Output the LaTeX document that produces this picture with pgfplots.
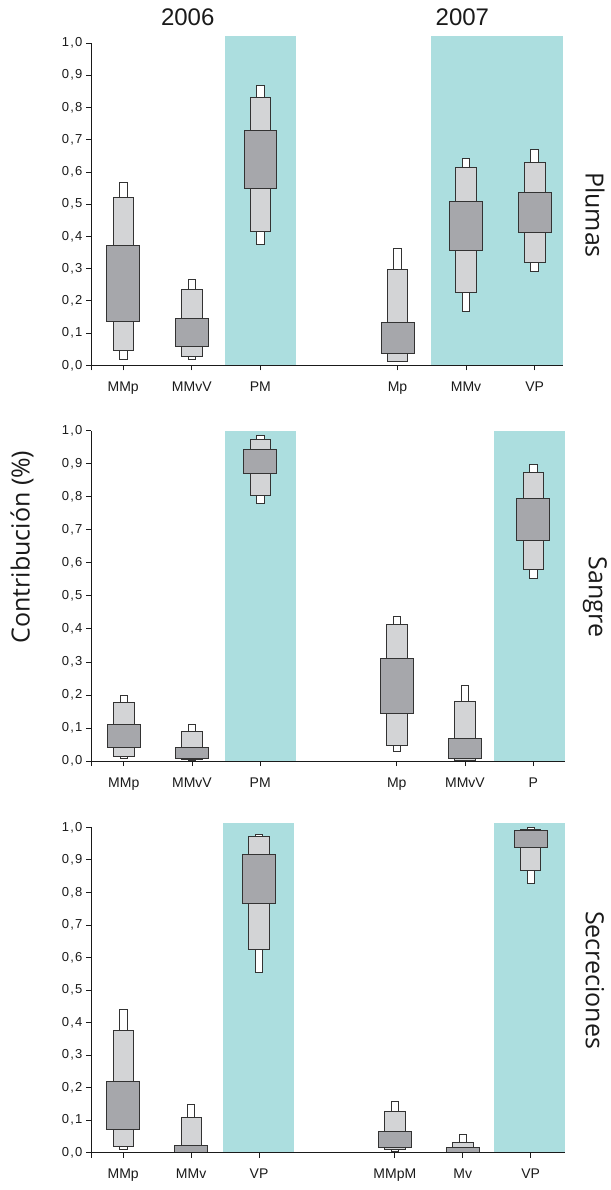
\documentclass[border=0pt]{standalone}
\usepackage{fontspec}
\setmainfont{Liberation Sans}
\newfontfamily\tickfont[LetterSpace=10]{Liberation Sans}
\newfontfamily\labelfont{Open Sans}
\usepackage{pgfplots}
\pgfplotsset{compat=1.18}

\definecolor{shade}{HTML}{ACDEDF}
\definecolor{ciA}{HTML}{FFFFFF}
\definecolor{ciB}{HTML}{D3D4D6}
\definecolor{ciC}{HTML}{A6A7AB}
\definecolor{edge}{HTML}{333333}
\definecolor{ink}{HTML}{1A1A1A}

\pgfplotsset{
  panel/.style={
    scale only axis, anchor=south west,
    axis lines*=left, axis line style={-, line width=0.8pt, ink},
    ymin=0, ymax=1,
    clip=false, axis on top,
    ytick={0,0.1,0.2,0.3,0.4,0.5,0.6,0.7,0.8,0.9,1.0},
    xtick={1,2,3,5,6,7},
    tick align=outside, major tick length=5pt,
    tick style={line width=0.8pt, ink},
    /pgf/number format/assume math mode=true,
    yticklabel style={/pgf/number format/.cd, fixed, fixed zerofill, precision=1, use comma,
      /tikz/.cd, font=\tickfont\fontsize{13}{15}\selectfont, text=ink},
    xticklabel style={font=\fontsize{14}{16}\selectfont, text=ink, yshift=-8pt},
    extra tick style={tick style={line width=0.8pt, ink}},
  },
  ci95/.style={draw=edge, fill=ciA, line width=0.8pt, mark=none},
  ci75/.style={draw=edge, fill=ciB, line width=0.8pt, mark=none},
  ci50/.style={draw=edge, fill=ciC, line width=0.8pt, mark=none},
}

% one credible interval drawn as a box: position, lower, upper, width, style
\newcommand{\band}[5]{%
  \pgfmathsetmacro\xl{#1-#4/2}%
  \pgfmathsetmacro\xr{#1+#4/2}%
  \edef\doband{\noexpand\addplot[#5, forget plot] coordinates
    {(\xl,#2) (\xr,#2) (\xr,#3) (\xl,#3)} -- cycle;}%
  \doband}
% nested 95 / 75 / 50 % intervals for one source
\newcommand{\credible}[7]{%
  \band{#1}{#2}{#3}{0.11}{ci95}
  \band{#1}{#4}{#5}{0.30}{ci75}
  \band{#1}{#6}{#7}{0.48}{ci50}}
% highlighted column band
\newcommand{\shaded}[3]{%
  \addplot[fill=shade, draw=none, forget plot] coordinates {(#1,0) (#2,0) (#2,#3) (#1,#3)} -- cycle;}

\begin{document}
\begin{tikzpicture}
\path (0,0) rectangle (608pt,-1190pt);

% ---- Plumas ----
\begin{axis}[panel, at={(91pt,-365.3pt)}, width=472.4pt, height=322.3pt,
  xmin=0.53, xmax=7.42, xticklabels={MMp,MMvV,PM,Mp,MMv,VP},
  extra x ticks={0.53}, extra x tick labels={}]
  \shaded{2.48}{3.52}{1.022}
  \shaded{5.49}{7.42}{1.022}
  \credible{1}{0.019}{0.569}{0.045}{0.521}{0.135}{0.373}
  \credible{2}{0.019}{0.267}{0.027}{0.237}{0.060}{0.146}
  \credible{3}{0.375}{0.868}{0.416}{0.831}{0.548}{0.729}
  \credible{5}{0.011}{0.363}{0.011}{0.298}{0.037}{0.132}
  \credible{6}{0.168}{0.643}{0.225}{0.613}{0.356}{0.509}
  \credible{7}{0.292}{0.670}{0.318}{0.631}{0.412}{0.537}
\end{axis}

% ---- Sangre ----
\begin{axis}[panel, at={(91pt,-761pt)}, width=473.6pt, height=330.3pt,
  xmin=0.52, xmax=7.46, xticklabels={MMp,MMvV,PM,Mp,MMvV,P},
  extra x ticks={0.52}, extra x tick labels={}]
  \shaded{2.49}{3.53}{1.0}
  \shaded{6.43}{7.46}{1.0}
  \credible{1}{0.007}{0.198}{0.014}{0.176}{0.040}{0.110}
  \credible{2}{0.003}{0.111}{0.005}{0.091}{0.007}{0.040}
  \credible{3}{0.779}{0.985}{0.804}{0.975}{0.871}{0.942}
  \credible{5}{0.028}{0.437}{0.047}{0.413}{0.143}{0.311}
  \credible{6}{0.000}{0.228}{0.003}{0.179}{0.007}{0.069}
  \credible{7}{0.552}{0.898}{0.579}{0.875}{0.668}{0.795}
\end{axis}

% ---- Secreciones ----
\begin{axis}[panel, at={(91pt,-1152.7pt)}, width=473.6pt, height=325.4pt,
  xmin=0.526, xmax=7.50, xticklabels={MMp,MMv,VP,MMpM,Mv,VP},
  extra x ticks={0.526}, extra x tick labels={}]
  \shaded{2.47}{3.51}{1.013}
  \shaded{6.46}{7.50}{1.013}
  \credible{1}{0.010}{0.440}{0.019}{0.376}{0.071}{0.219}
  \credible{2}{0.000}{0.147}{0.002}{0.108}{0.002}{0.023}
  \credible{3}{0.554}{0.978}{0.625}{0.972}{0.766}{0.916}
  \credible{5}{0.004}{0.157}{0.010}{0.127}{0.015}{0.065}
  \credible{6}{0.000}{0.056}{0.001}{0.032}{0.002}{0.015}
  \credible{7}{0.829}{1.000}{0.867}{0.994}{0.937}{0.989}
\end{axis}

% year headings
\node[anchor=base, font=\fontsize{24}{28}\selectfont, text=ink] at (187.7pt,-26pt) {2006};
\node[anchor=base, font=\fontsize{24}{28}\selectfont, text=ink] at (462.4pt,-26pt) {2007};

% tissue labels
\node[rotate=-90, font=\labelfont\fontsize{25}{30}\selectfont, text=ink] at (595pt,-215pt) {Plumas};
\node[rotate=-90, font=\labelfont\fontsize{25}{30}\selectfont, text=ink] at (595pt,-597pt) {Sangre};
\node[rotate=-90, font=\labelfont\fontsize{25}{30}\selectfont, text=ink] at (595pt,-980pt) {Secreciones};

% common y label
\node[rotate=90, font=\labelfont\fontsize{25}{30}\selectfont, text=ink] at (22pt,-547pt) {Contribución (\%)};
\end{tikzpicture}
\end{document}
